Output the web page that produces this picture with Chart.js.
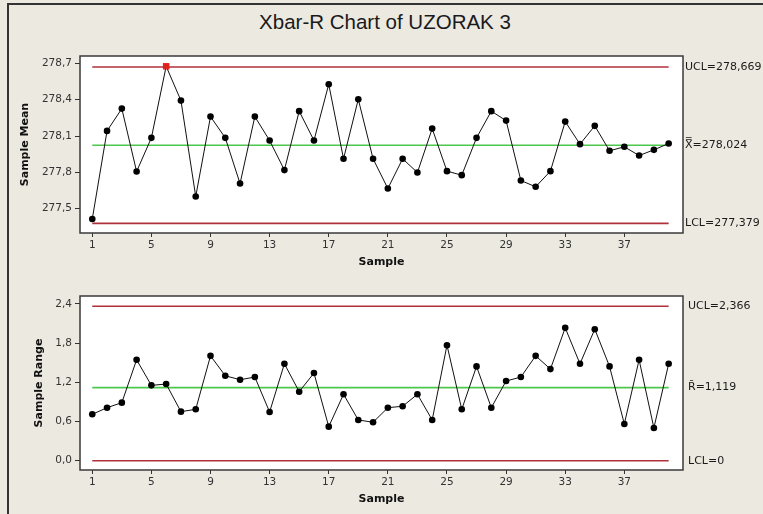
<!DOCTYPE html>
<html>
<head>
<meta charset="utf-8">
<script src="https://cdn.jsdelivr.net/npm/chart.js@4"></script>
<style>
  body { margin: 0; background: #ECE9E1; width: 763px; height: 514px; overflow: hidden; position: relative; }
  #frame { position: absolute; left: 7px; top: 3px; width: 780px; height: 530px; border-left: 2px solid #333; border-top: 2px solid #333; }
  #title { position: absolute; left: 0; width: 770px; top: 10px; line-height: 24px; text-align: center; font: 20.5px "Liberation Sans"; color: #1a1a1a; }
  canvas { position: absolute; left: 0; }
</style>
</head>
<body>
<div id="frame"></div>
<div id="title">Xbar-R Chart of UZORAK 3</div>
<canvas id="meanChart" width="763" height="230" style="top:40px"></canvas>
<canvas id="rangeChart" width="763" height="244" style="top:270px"></canvas>
<script>
// values, sample 1..40
const sampleMean = [
  277.415, 278.142, 278.326, 277.807, 278.085, 278.675, 278.392, 277.601, 278.260, 278.085,
  277.708, 278.260, 278.063, 277.819, 278.305, 278.063, 278.527, 277.912, 278.403, 277.912,
  277.667, 277.912, 277.799, 278.161, 277.810, 277.777, 278.085, 278.305, 278.227, 277.733,
  277.681, 277.810, 278.219, 278.033, 278.184, 277.978, 278.011, 277.939, 277.986, 278.038
];
const sampleRange = [
  0.711, 0.812, 0.889, 1.545, 1.154, 1.174, 0.751, 0.787, 1.606, 1.301,
  1.240, 1.281, 0.746, 1.484, 1.057, 1.342, 0.522, 1.017, 0.624, 0.589,
  0.812, 0.834, 1.017, 0.624, 1.769, 0.787, 1.444, 0.812, 1.220, 1.281,
  1.606, 1.403, 2.034, 1.484, 2.014, 1.444, 0.563, 1.545, 0.502, 1.484
];

const meanLimits = [278.669, 278.024, 277.379];
const meanLimitLabels = ['UCL=278,669', 'X\u033F=278,024', 'LCL=277,379'];
const rangeLimits = [2.366, 1.119, 0];
const rangeLimitLabels = ['UCL=2,366', 'R\u0304=1,119', 'LCL=0'];

const sampleTicks = [1, 5, 9, 13, 17, 21, 25, 29, 33, 37];
const meanTicks = [277.5, 277.8, 278.1, 278.4, 278.7];
const rangeTicks = [0, 0.6, 1.2, 1.8, 2.4];

const limitColors = ['#B0303C', '#4CC84C', '#B0303C'];
const tickFont = { family: 'DejaVu Sans', size: 10.5 };
const titleFont = { family: 'DejaVu Sans', size: 11, weight: 'bold' };

const plotFrame = {
  id: 'plotFrame',
  beforeDraw(chart) {
    const { ctx, chartArea: a } = chart;
    ctx.save();
    ctx.fillStyle = '#fff';
    ctx.fillRect(a.left, a.top, a.width, a.height);
    ctx.restore();
  },
  afterDraw(chart) {
    const { ctx, chartArea: a } = chart;
    const o = chart.options.plugins.plotFrame;
    ctx.save();
    ctx.strokeStyle = '#3a3a3a';
    ctx.lineWidth = 1.5;
    ctx.strokeRect(a.left, a.top, a.width, a.height);
    ctx.fillStyle = '#1a1a1a';
    ctx.font = '11px "DejaVu Sans"';
    ctx.textBaseline = 'middle';
    o.values.forEach((v, i) => {
      ctx.fillText(o.labels[i], a.right + o.labelGap, chart.scales.y.getPixelForValue(v));
    });
    ctx.restore();
  }
};

function makeChart(id, values, limits, limitLabels, yTicks, yMin, yMax, cfg) {
  const first = 1, last = values.length;
  const points = values.map((v, i) => ({ x: i + 1, y: v }));
  const out = values.map(v => v > limits[0] || v < limits[2]);
  const datasets = [{
    data: points,
    borderColor: '#111',
    borderWidth: 1,
    pointRadius: out.map(o => o ? 4.6 : 3.3),
    pointStyle: out.map(o => o ? 'rect' : 'circle'),
    pointBackgroundColor: out.map(o => o ? '#E0201C' : '#000'),
    pointBorderWidth: 0
  }];
  limits.forEach((v, i) => {
    datasets.push({
      data: [{ x: first, y: v }, { x: last, y: v }],
      borderColor: limitColors[i],
      borderWidth: 1.6,
      pointRadius: 0
    });
  });

  return new Chart(document.getElementById(id), {
    type: 'line',
    data: { datasets },
    plugins: [plotFrame],
    options: {
      responsive: false,
      animation: false,
      devicePixelRatio: 1,
      layout: { padding: { top: cfg.padTop, right: 80, left: 0, bottom: 0 } },
      plugins: {
        legend: { display: false },
        tooltip: { enabled: false },
        plotFrame: { values: limits, labels: limitLabels, labelGap: cfg.labelGap }
      },
      scales: {
        x: {
          type: 'linear',
          min: 0.17,
          max: 40.97,
          afterFit: s => { s.height = cfg.xHeight; },
          afterBuildTicks: s => { s.ticks = sampleTicks.map(v => ({ value: v })); },
          grid: { drawOnChartArea: false, drawTicks: true, tickLength: 4, color: '#333' },
          border: { display: false },
          ticks: { font: tickFont, color: '#333', padding: 2, maxRotation: 0, autoSkip: false, callback: v => String(v) },
          title: { display: true, text: 'Sample', font: titleFont, color: '#111', padding: { top: 0, bottom: cfg.xTitlePad } }
        },
        y: {
          min: yMin,
          max: yMax,
          afterFit: s => { s.width = 80; },
          afterBuildTicks: s => { s.ticks = yTicks.map(v => ({ value: v })); },
          grid: { drawOnChartArea: false, drawTicks: true, tickLength: 5, color: '#333' },
          border: { display: false },
          ticks: { font: tickFont, color: '#333', padding: 3, callback: v => v.toFixed(1).replace('.', ',') },
          title: { display: true, text: cfg.yTitle, font: titleFont, color: '#111', padding: { top: cfg.yTitlePad, bottom: 0 } }
        }
      }
    }
  });
}

makeChart('meanChart', sampleMean, meanLimits, meanLimitLabels, meanTicks, 277.30, 278.76,
  { padTop: 16, xHeight: 37, xTitlePad: 1.4, yTitle: 'Sample Mean', yTitlePad: 18.4, labelGap: 2 });
makeChart('rangeChart', sampleRange, rangeLimits, rangeLimitLabels, rangeTicks, -0.142, 2.522,
  { padTop: 26, xHeight: 44, xTitlePad: 8.7, yTitle: 'Sample Range', yTitlePad: 32.7, labelGap: 5 });
</script>
</body>
</html>
